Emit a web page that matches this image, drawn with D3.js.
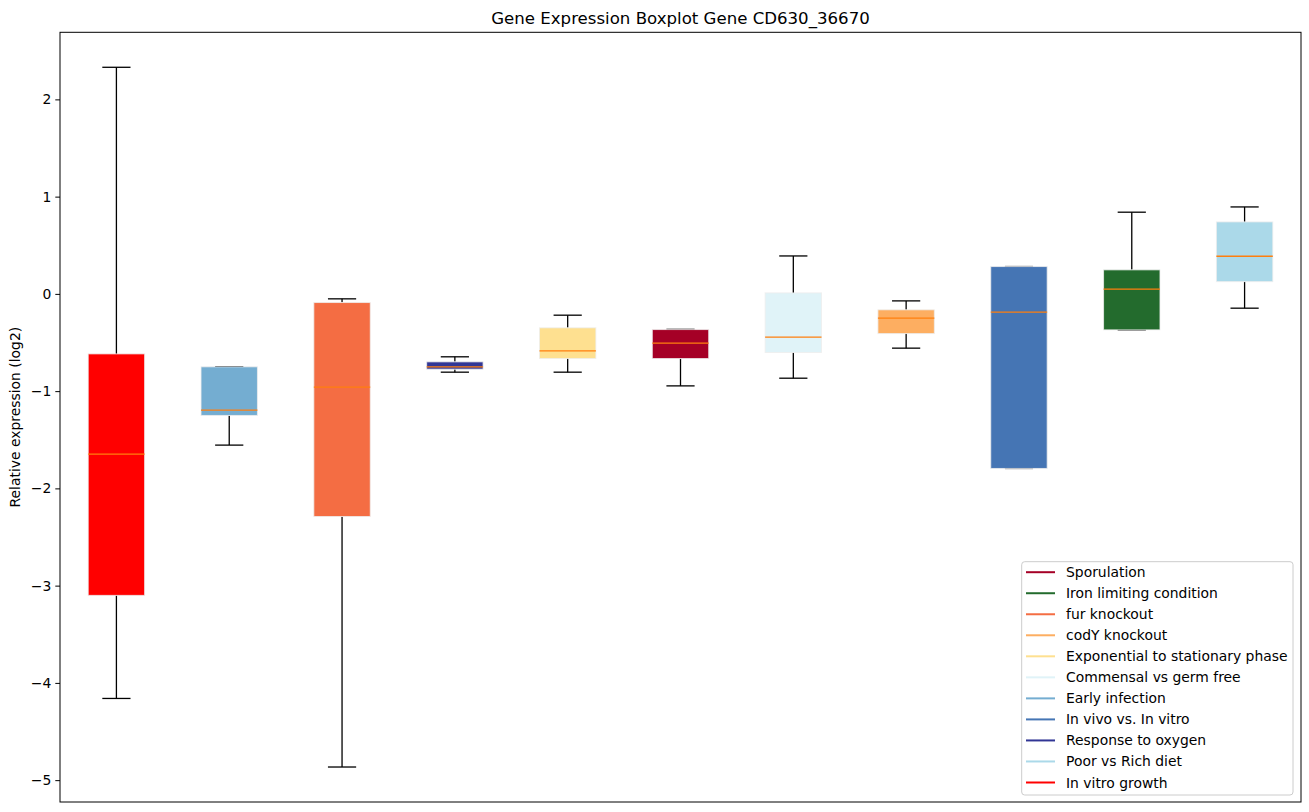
<!DOCTYPE html>
<html>
<head>
<meta charset="utf-8">
<script src="https://cdn.jsdelivr.net/npm/d3@7"></script>
<style>
  html, body { margin: 0; padding: 0; background: #fff; }
  text { font-family: "DejaVu Sans", sans-serif; }
</style>
</head>
<body>
<svg id="chart" width="1309" height="812"></svg>
<script>
// ---- data ----
const categories = ["In vitro growth", "Early infection", "fur knockout", "Response to oxygen",
  "Exponential to stationary phase", "Sporulation", "Commensal vs germ free", "codY knockout",
  "In vivo vs. In vitro", "Iron limiting condition", "Poor vs Rich diet"];
const whiskerLow  = [-4.16, -1.555, -4.865, -0.805, -0.805, -0.946, -0.867, -0.558, -1.795, -0.37, -0.147];
const q1          = [-3.10, -1.25, -2.289, -0.774, -0.665, -0.665, -0.603, -0.408, -1.795, -0.37, 0.126];
const medians     = [-1.648, -1.195, -0.959, -0.750, -0.586, -0.507, -0.445, -0.25, -0.188, 0.048, 0.387];
const q3          = [-0.617, -0.75, -0.089, -0.699, -0.349, -0.367, 0.01, -0.164, 0.281, 0.247, 0.74];
const whiskerHigh = [2.33, -0.748, -0.051, -0.647, -0.219, -0.365, 0.39, -0.072, 0.281, 0.84, 0.894];
const colors = ["#ff0000", "#74add1", "#f46d43", "#313695", "#fee090", "#a50026", "#e0f3f8",
  "#fdae61", "#4575b4", "#236b2d", "#abd9e9"];
const legendOrder = ["Sporulation", "Iron limiting condition", "fur knockout", "codY knockout",
  "Exponential to stationary phase", "Commensal vs germ free", "Early infection",
  "In vivo vs. In vitro", "Response to oxygen", "Poor vs Rich diet", "In vitro growth"];
const yTicks = [-5, -4, -3, -2, -1, 0, 1, 2];
const title = "Gene Expression Boxplot Gene CD630_36670";
const yLabel = "Relative expression (log2)";

// ---- layout ----
const svg = d3.select("#chart");
const L = 60, R = 1301, T = 32.3, B = 802;
const FS = 13.9;

const lo = d3.min(whiskerLow), hi = d3.max(whiskerHigh);
const pad = (hi - lo) * 0.05;
const y = d3.scaleLinear().domain([lo - pad, hi + pad]).range([B, T]);
const x = d3.scaleLinear().domain([0.5, categories.length + 0.5]).range([L, R]);
const boxW = x(1.25) - x(1);
const capW = x(1.125) - x(1);

const data = categories.map((c, i) => ({
  name: c, pos: i + 1, lo: whiskerLow[i], q1: q1[i], med: medians[i], q3: q3[i], hi: whiskerHigh[i], color: colors[i]
}));

const g = svg.append("g");

// whiskers and caps
data.forEach(d => {
  const cx = x(d.pos);
  g.append("line").attr("x1", cx).attr("x2", cx).attr("y1", y(d.q3)).attr("y2", y(d.hi))
    .attr("stroke", "#000").attr("stroke-width", 1.3);
  g.append("line").attr("x1", cx).attr("x2", cx).attr("y1", y(d.q1)).attr("y2", y(d.lo))
    .attr("stroke", "#000").attr("stroke-width", 1.3);
  g.append("line").attr("x1", cx - capW).attr("x2", cx + capW).attr("y1", y(d.hi)).attr("y2", y(d.hi))
    .attr("stroke", "#000").attr("stroke-width", 1.3);
  g.append("line").attr("x1", cx - capW).attr("x2", cx + capW).attr("y1", y(d.lo)).attr("y2", y(d.lo))
    .attr("stroke", "#000").attr("stroke-width", 1.3);
});
// boxes and medians
data.forEach(d => {
  const cx = x(d.pos);
  g.append("rect").attr("x", cx - boxW).attr("width", 2 * boxW)
    .attr("y", y(d.q3)).attr("height", Math.max(0.5, y(d.q1) - y(d.q3)))
    .attr("fill", d.color).attr("stroke", "#eeeeee").attr("stroke-opacity", 0.8).attr("stroke-width", 1);
  g.append("line").attr("x1", cx - boxW).attr("x2", cx + boxW).attr("y1", y(d.med)).attr("y2", y(d.med))
    .attr("stroke", "#ff7f0e").attr("stroke-width", 1.3);
});

// axes frame
svg.append("rect").attr("x", L).attr("y", T).attr("width", R - L).attr("height", B - T)
  .attr("fill", "none").attr("stroke", "#000").attr("stroke-width", 1);

const yAxis = d3.axisLeft(y).tickValues(yTicks).tickSize(4.7).tickPadding(4)
  .tickFormat(v => (v < 0 ? "\u2212" + Math.abs(v) : String(v)));
const ya = svg.append("g").attr("transform", `translate(${L},0)`).call(yAxis);
ya.select(".domain").remove();
ya.selectAll("text").attr("font-size", FS).attr("fill", "#000").attr("font-family", "DejaVu Sans");
ya.selectAll("line").attr("stroke", "#000");

// title
svg.append("text").attr("x", (L + R) / 2).attr("y", 23.5).attr("text-anchor", "middle")
  .attr("font-size", 16.6).attr("fill", "#000").text(title);
// y label
svg.append("text").attr("transform", `translate(20,${(T + B) / 2}) rotate(-90)`)
  .attr("text-anchor", "middle").attr("font-size", FS).attr("fill", "#000").text(yLabel);

// legend
const lgX = 1021.7, lgY = 561.7, lgW = 271.3, lgH = 233.3, rowH = 21.03;
const lg = svg.append("g");
lg.append("rect").attr("x", lgX).attr("y", lgY).attr("width", lgW).attr("height", lgH)
  .attr("rx", 3).attr("fill", "#fff").attr("fill-opacity", 0.8).attr("stroke", "#cccccc");
const colorOf = n => colors[categories.indexOf(n)];
legendOrder.forEach((n, i) => {
  const cy = lgY + 10.5 + i * rowH;
  lg.append("line").attr("x1", 1026).attr("x2", 1055).attr("y1", cy).attr("y2", cy)
    .attr("stroke", colorOf(n)).attr("stroke-width", 2);
  lg.append("text").attr("x", 1066).attr("y", cy).attr("dy", "0.36em")
    .attr("font-size", FS).attr("fill", "#000").text(n);
});
</script>
</body>
</html>
